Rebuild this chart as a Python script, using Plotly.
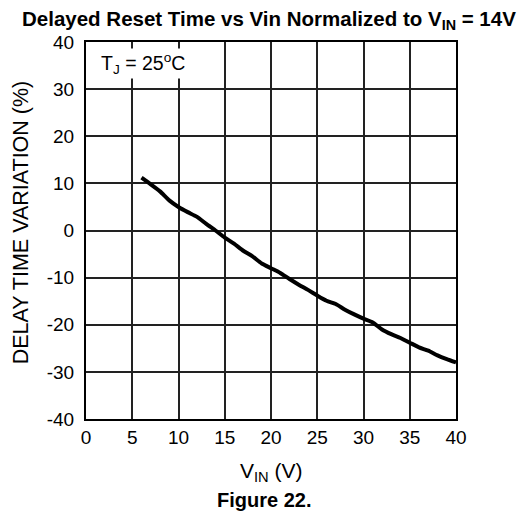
import plotly.graph_objects as go

vin = [6, 7, 8, 9, 10, 11, 12, 13, 14, 15, 16, 17, 18, 19, 20, 21, 22, 23, 24, 25,
       26, 27, 28, 29, 30, 31, 32, 33, 34, 35, 36, 37, 38, 39, 40]
delay_var = [11.2, 9.8, 8.3, 6.4, 5.0, 3.9, 2.9, 1.4, 0.0, -1.5, -2.8, -4.3, -5.5, -7.0,
             -8.0, -9.0, -10.3, -11.5, -12.6, -13.8, -14.9, -15.6, -16.8, -17.8, -18.7,
             -19.5, -21.0, -22.0, -22.8, -23.8, -24.8, -25.5, -26.5, -27.3, -28.0]
x_ticks = [0, 5, 10, 15, 20, 25, 30, 35, 40]
y_ticks = [-40, -30, -20, -10, 0, 10, 20, 30, 40]

FONT = "Arial, Liberation Sans, sans-serif"

fig = go.Figure()
fig.add_trace(go.Scatter(x=vin, y=delay_var, mode="lines",
                         line=dict(color="black", width=4, shape="spline", smoothing=0.6),
                         showlegend=False, hoverinfo="skip"))

fig.update_layout(
    width=522, height=510,
    margin=dict(l=78, r=74, t=34, b=99),
    paper_bgcolor="white", plot_bgcolor="white",
    font=dict(family=FONT, size=19, color="black"),
    xaxis=dict(range=[0, 40], tickvals=x_ticks, ticktext=[str(v) for v in x_ticks],
               showgrid=True, gridcolor="#222222", gridwidth=1.5,
               showline=True, linecolor="black", linewidth=2, mirror=True,
               zeroline=False, ticks="", ticklabelstandoff=0,
               tickfont=dict(size=19, family=FONT)),
    yaxis=dict(range=[-40, 40], tickvals=y_ticks, ticktext=[str(v) for v in y_ticks],
               showgrid=True, gridcolor="#222222", gridwidth=1.5,
               showline=True, linecolor="black", linewidth=2, mirror=True,
               zeroline=False, ticks="", ticklabelstandoff=6,
               tickfont=dict(size=19, family=FONT)),
    annotations=[
        dict(text="<b>Delayed Reset Time vs Vin Normalized to V<sub>IN</sub> = 14V</b>",
             xref="paper", yref="paper", x=0.495, y=1.058, showarrow=False,
             xanchor="center", yanchor="middle", font=dict(size=20.5, family=FONT)),
        dict(text="DELAY TIME VARIATION (%)", xref="paper", yref="paper",
             x=-0.175, y=0.5225, textangle=-90, showarrow=False,
             xanchor="center", yanchor="middle", font=dict(size=21.5, family=FONT)),
        dict(text="V<sub>IN</sub> (V)", xref="paper", yref="paper",
             x=0.502, y=-0.14, showarrow=False,
             xanchor="center", yanchor="middle", font=dict(size=21, family=FONT)),
        dict(text="<b>Figure 22.</b>", xref="paper", yref="paper",
             x=0.481, y=-0.215, showarrow=False,
             xanchor="center", yanchor="middle", font=dict(size=20, family=FONT)),
        dict(text="T<sub>J</sub> = 25<sup>o</sup>C", xref="x", yref="y",
             x=1.4, y=35.4, showarrow=False, bgcolor="white",
             xanchor="left", yanchor="middle", font=dict(size=19.5, family=FONT)),
    ],
)

fig.write_html("out.html")
